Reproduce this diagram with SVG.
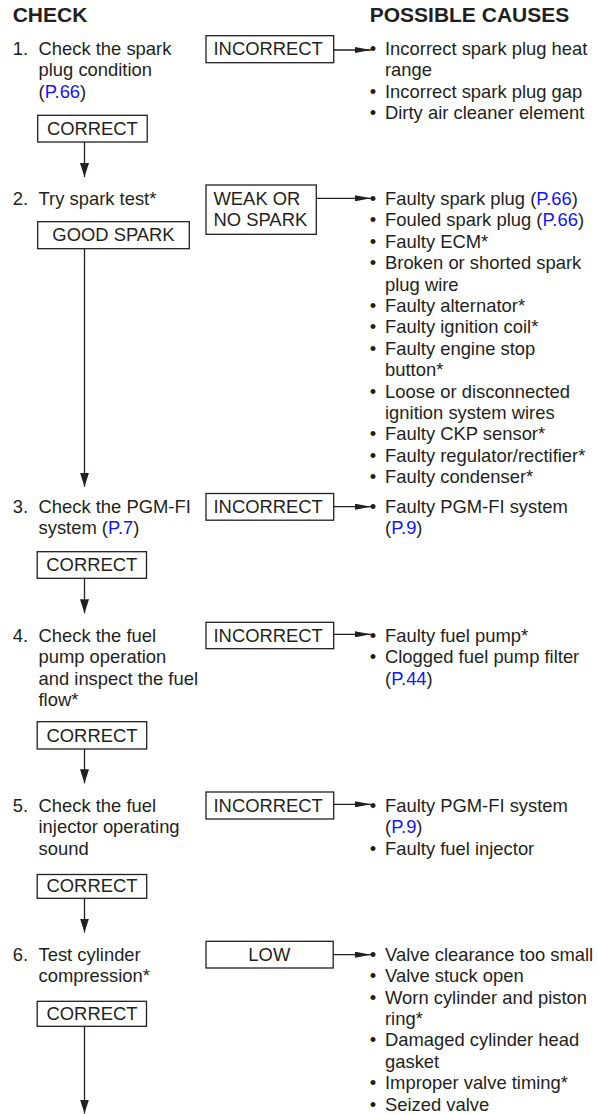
<svg xmlns="http://www.w3.org/2000/svg" width="599" height="1114" viewBox="0 0 599 1114">
<style>
text{font-family:"Liberation Sans",Arial,Helvetica,sans-serif;font-size:18.4px;fill:#231f20}
.h{font-weight:bold;font-size:21px}
.m{text-anchor:middle}
.lk{fill:#1414ff}
.box{fill:#fff;stroke:#231f20;stroke-width:1.3}
.cn{stroke:#231f20;stroke-width:1.3;fill:none}
.v{marker-end:url(#arrV)}
.hz{marker-end:url(#arrH)}
</style>
<defs>
<marker id="arrV" markerUnits="userSpaceOnUse" markerWidth="14" markerHeight="9" refX="14" refY="4.5" orient="auto"><path d="M0,0 L14,4.5 L0,9 z" fill="#231f20"/></marker>
<marker id="arrH" markerUnits="userSpaceOnUse" markerWidth="16" markerHeight="6" refX="16" refY="3" orient="auto"><path d="M0,0 L16,3 L0,6 z" fill="#231f20"/></marker>
</defs>
<rect width="599" height="1114" fill="#fff"/>

<g id="headings">
<text class="h" x="12.7" y="22">CHECK</text>
<text class="h" x="369.7" y="22">POSSIBLE CAUSES</text>
</g>

<g id="connectors">
<line class="cn v" x1="84.5" y1="142" x2="84.5" y2="177"/>
<line class="cn v" x1="84.5" y1="248.7" x2="84.5" y2="486.7"/>
<line class="cn v" x1="84.5" y1="578.3" x2="84.5" y2="613.3"/>
<line class="cn v" x1="84.5" y1="749" x2="84.5" y2="783.3"/>
<line class="cn v" x1="84.5" y1="898.3" x2="84.5" y2="932.5"/>
<line class="cn v" x1="84.5" y1="1026.3" x2="84.5" y2="1113.5"/>
<line class="cn hz" x1="333.7" y1="50" x2="371" y2="50"/>
<line class="cn hz" x1="316.3" y1="198.3" x2="371" y2="198.3"/>
<line class="cn hz" x1="333.7" y1="506.7" x2="371" y2="506.7"/>
<line class="cn hz" x1="333.7" y1="634.3" x2="371" y2="634.3"/>
<line class="cn hz" x1="333.7" y1="804.3" x2="371" y2="804.3"/>
<line class="cn hz" x1="333.2" y1="954.7" x2="371" y2="954.7"/>
</g>

<g id="step1">
<text x="12.7" y="55">1.</text>
<text x="38.5" y="55">Check the spark</text>
<text x="38.5" y="76.4">plug condition</text>
<text x="38.5" y="97.8">(<tspan class="lk">P.66</tspan>)</text>
</g>
<g id="step1-incorrect">
<rect class="box" x="206" y="35.7" width="127.7" height="27"/>
<text x="213.5" y="55">INCORRECT</text>
</g>
<g id="step1-correct">
<rect class="box" x="37.7" y="115.3" width="109.5" height="26.7"/>
<text class="m" x="92.4" y="135">CORRECT</text>
</g>
<g id="causes1">
<text class="m" x="373" y="55">•</text><text x="385" y="55">Incorrect spark plug heat</text>
<text x="385" y="76.4">range</text>
<text class="m" x="373" y="97.8">•</text><text x="385" y="97.8">Incorrect spark plug gap</text>
<text class="m" x="373" y="119.2">•</text><text x="385" y="119.2">Dirty air cleaner element</text>
</g>

<g id="step2">
<text x="12.7" y="205">2.</text>
<text x="38.5" y="205">Try spark test*</text>
</g>
<g id="step2-weak">
<rect class="box" x="206" y="185" width="110.3" height="49.3"/>
<text x="213.5" y="205">WEAK OR</text>
<text x="213.5" y="225.7">NO SPARK</text>
</g>
<g id="step2-good">
<rect class="box" x="37.7" y="221.7" width="151.6" height="27"/>
<text class="m" x="113.5" y="241">GOOD SPARK</text>
</g>
<g id="causes2">
<text class="m" x="373" y="205">•</text><text x="385" y="205">Faulty spark plug (<tspan class="lk">P.66</tspan>)</text>
<text class="m" x="373" y="226.4">•</text><text x="385" y="226.4">Fouled spark plug (<tspan class="lk">P.66</tspan>)</text>
<text class="m" x="373" y="247.8">•</text><text x="385" y="247.8">Faulty ECM*</text>
<text class="m" x="373" y="269.2">•</text><text x="385" y="269.2">Broken or shorted spark</text>
<text x="385" y="290.6">plug wire</text>
<text class="m" x="373" y="312">•</text><text x="385" y="312">Faulty alternator*</text>
<text class="m" x="373" y="333.4">•</text><text x="385" y="333.4">Faulty ignition coil*</text>
<text class="m" x="373" y="354.8">•</text><text x="385" y="354.8">Faulty engine stop</text>
<text x="385" y="376.2">button*</text>
<text class="m" x="373" y="397.6">•</text><text x="385" y="397.6">Loose or disconnected</text>
<text x="385" y="419">ignition system wires</text>
<text class="m" x="373" y="440.4">•</text><text x="385" y="440.4">Faulty CKP sensor*</text>
<text class="m" x="373" y="461.8">•</text><text x="385" y="461.8">Faulty regulator/rectifier*</text>
<text class="m" x="373" y="483.2">•</text><text x="385" y="483.2">Faulty condenser*</text>
</g>

<g id="step3">
<text x="12.7" y="512.7">3.</text>
<text x="38.5" y="512.7">Check the PGM-FI</text>
<text x="38.5" y="534.1">system (<tspan class="lk">P.7</tspan>)</text>
</g>
<g id="step3-incorrect">
<rect class="box" x="206" y="493.5" width="127.7" height="26.7"/>
<text x="213.5" y="512.7">INCORRECT</text>
</g>
<g id="step3-correct">
<rect class="box" x="37.2" y="551.7" width="109.3" height="26.6"/>
<text class="m" x="91.8" y="571.3">CORRECT</text>
</g>
<g id="causes3">
<text class="m" x="373" y="512.7">•</text><text x="385" y="512.7">Faulty PGM-FI system</text>
<text x="385" y="534.1">(<tspan class="lk">P.9</tspan>)</text>
</g>

<g id="step4">
<text x="12.7" y="641.7">4.</text>
<text x="38.5" y="641.7">Check the fuel</text>
<text x="38.5" y="663.1">pump operation</text>
<text x="38.5" y="684.5">and inspect the fuel</text>
<text x="38.5" y="705.9">flow*</text>
</g>
<g id="step4-incorrect">
<rect class="box" x="206" y="622.3" width="127.7" height="26.4"/>
<text x="213.5" y="641.7">INCORRECT</text>
</g>
<g id="step4-correct">
<rect class="box" x="37.2" y="721.7" width="109.5" height="27.3"/>
<text class="m" x="92" y="741.5">CORRECT</text>
</g>
<g id="causes4">
<text class="m" x="373" y="641.7">•</text><text x="385" y="641.7">Faulty fuel pump*</text>
<text class="m" x="373" y="663.1">•</text><text x="385" y="663.1">Clogged fuel pump filter</text>
<text x="385" y="684.5">(<tspan class="lk">P.44</tspan>)</text>
</g>

<g id="step5">
<text x="12.7" y="811.7">5.</text>
<text x="38.5" y="811.7">Check the fuel</text>
<text x="38.5" y="833.1">injector operating</text>
<text x="38.5" y="854.5">sound</text>
</g>
<g id="step5-incorrect">
<rect class="box" x="206" y="792" width="127.7" height="27"/>
<text x="213.5" y="811.7">INCORRECT</text>
</g>
<g id="step5-correct">
<rect class="box" x="37.2" y="874.5" width="109.5" height="23.8"/>
<text class="m" x="92" y="892">CORRECT</text>
</g>
<g id="causes5">
<text class="m" x="373" y="811.7">•</text><text x="385" y="811.7">Faulty PGM-FI system</text>
<text x="385" y="833.1">(<tspan class="lk">P.9</tspan>)</text>
<text class="m" x="373" y="854.5">•</text><text x="385" y="854.5">Faulty fuel injector</text>
</g>

<g id="step6">
<text x="12.7" y="960.7">6.</text>
<text x="38.5" y="960.7">Test cylinder</text>
<text x="38.5" y="982.1">compression*</text>
</g>
<g id="step6-low">
<rect class="box" x="206" y="941.3" width="127.2" height="26.7"/>
<text class="m" x="269.3" y="960.7">LOW</text>
</g>
<g id="step6-correct">
<rect class="box" x="37.2" y="1001.3" width="109.3" height="25"/>
<text class="m" x="92" y="1020">CORRECT</text>
</g>
<g id="causes6">
<text class="m" x="373" y="960.7">•</text><text x="385" y="960.7">Valve clearance too small</text>
<text class="m" x="373" y="982.1">•</text><text x="385" y="982.1">Valve stuck open</text>
<text class="m" x="373" y="1003.5">•</text><text x="385" y="1003.5">Worn cylinder and piston</text>
<text x="385" y="1024.9">ring*</text>
<text class="m" x="373" y="1046.3">•</text><text x="385" y="1046.3">Damaged cylinder head</text>
<text x="385" y="1067.7">gasket</text>
<text class="m" x="373" y="1089.1">•</text><text x="385" y="1089.1">Improper valve timing*</text>
<text class="m" x="373" y="1110.5">•</text><text x="385" y="1110.5">Seized valve</text>
</g>
</svg>
